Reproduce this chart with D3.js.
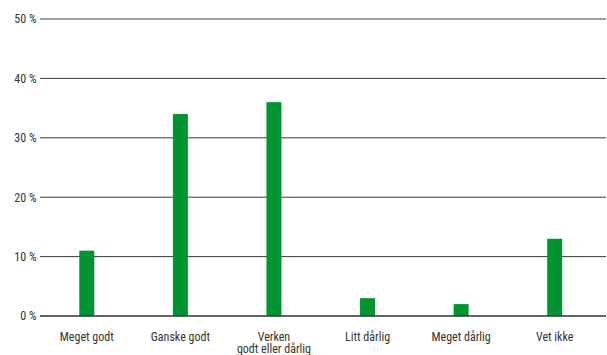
<!DOCTYPE html>
<html>
<head>
<meta charset="utf-8">
<script src="https://cdn.jsdelivr.net/npm/d3@7"></script>
<style>
  html, body { margin: 0; padding: 0; background: #fff; }
  svg text { font-family: "Liberation Sans Narrow", "Roboto Condensed", "Arial Narrow", Roboto, "Liberation Sans", sans-serif; fill: #333; }
</style>
</head>
<body>
<svg id="chart" width="607" height="355"></svg>
<script>
// Svarfordeling i prosent
const categories = ["Meget godt", "Ganske godt", "Verken\ngodt eller dårlig", "Litt dårlig", "Meget dårlig", "Vet ikke"];
const values = [11, 34, 36, 3, 2, 13];
const yTicks = [0, 10, 20, 30, 40, 50];

const svg = d3.select("#chart");
const plotLeft = 40, plotRight = 606, plotTop = 19, plotBottom = 316;

const x = d3.scaleBand().domain(categories).range([plotLeft, 601.5]).paddingInner(0).paddingOuter(0);
const y = d3.scaleLinear().domain([0, 50]).range([plotBottom, plotTop]);
const barW = 15;

// Gridlines with labels
const grid = svg.append("g");
grid.selectAll("line").data(yTicks).join("line")
  .attr("x1", plotLeft).attr("x2", plotRight)
  .attr("y1", d => y(d)).attr("y2", d => y(d))
  .attr("stroke", "#3a3a3a").attr("stroke-width", 1);
grid.selectAll("text").data(yTicks).join("text")
  .attr("x", 36.5).attr("y", d => y(d)).attr("dy", "0.36em")
  .attr("text-anchor", "end").attr("font-size", 12)
  .text(d => d + " %");

// Bars
svg.append("g").selectAll("rect").data(values).join("rect")
  .attr("x", (d, i) => x(categories[i]) + x.bandwidth() / 2 - barW / 2)
  .attr("width", barW)
  .attr("y", d => y(d))
  .attr("height", d => y(0) - y(d))
  .attr("fill", "#009432");

// Redraw baseline over bars
svg.append("line").attr("x1", plotLeft).attr("x2", plotRight)
  .attr("y1", y(0)).attr("y2", y(0)).attr("stroke", "#2a2a2a");

// Category labels, one text element per line
const lines = categories.flatMap(c => c.split("\n").map((t, i) => ({ cat: c, text: t, row: i })));
svg.append("g").selectAll("text").data(lines).join("text")
  .attr("x", d => x(d.cat) + x.bandwidth() / 2)
  .attr("y", d => 340.5 + d.row * 12.5)
  .attr("text-anchor", "middle").attr("font-size", 12)
  .text(d => d.text);
</script>
</body>
</html>
